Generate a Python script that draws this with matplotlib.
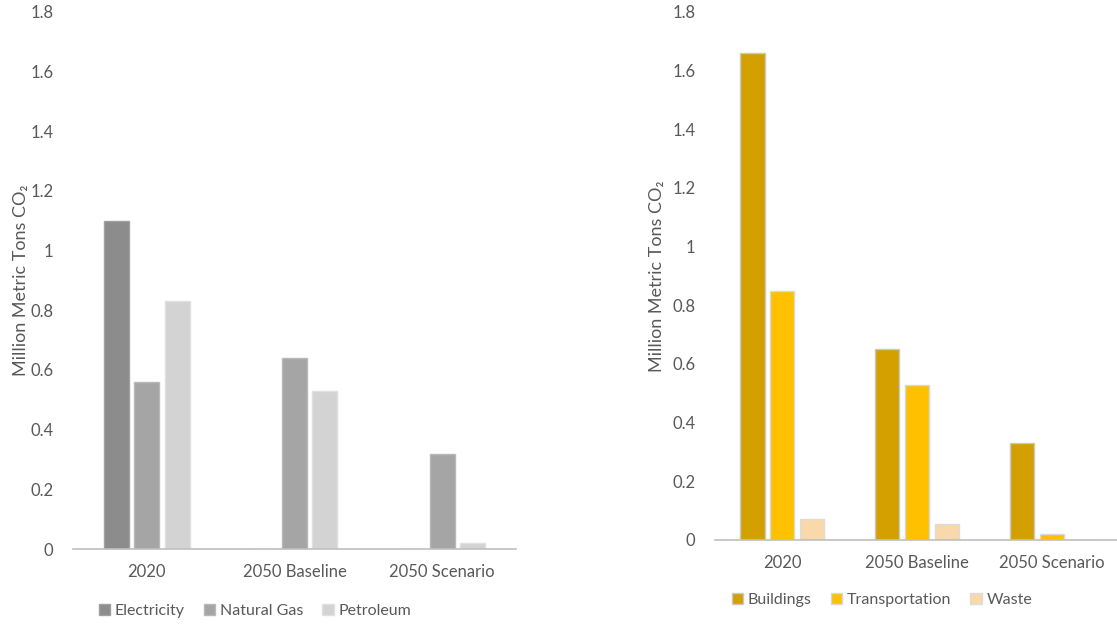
import numpy as np
import matplotlib.pyplot as plt

plt.rcParams['font.family'] = ['Lato', 'DejaVu Sans']

categories = ['2020', '2050 Baseline', '2050 Scenario']

# emissions by fuel type
fuel_names = ['Electricity', 'Natural Gas', 'Petroleum']
electricity = [1.10, 0.0, 0.0]
natural_gas = [0.56, 0.64, 0.32]
petroleum = [0.83, 0.53, 0.02]

# emissions by sector
sector_names = ['Buildings', 'Transportation', 'Waste']
buildings = [1.66, 0.65, 0.33]
transportation = [0.85, 0.53, 0.02]
waste = [0.07, 0.055, 0.0]

yticks = [0, 0.2, 0.4, 0.6, 0.8, 1, 1.2, 1.4, 1.6, 1.8]
ytick_labels = ['0', '0.2', '0.4', '0.6', '0.8', '1', '1.2', '1.4', '1.6', '1.8']

text_color = '#595959'
W, H = 1117, 625


def draw_panel(ax, series, names, colors, edges, step, width, xmax):
    x = np.arange(len(categories))
    for i, (vals, name, c, ec) in enumerate(zip(series, names, colors, edges)):
        ax.bar(x + (i - 1) * step, vals, width, color=c, edgecolor=ec,
               linewidth=1.0, label=name)
    ax.set_xlim(-0.5, xmax)
    ax.set_ylim(0, 1.8)
    ax.set_xticks(x)
    ax.set_xticklabels(categories)
    ax.set_yticks(yticks)
    ax.set_yticklabels(ytick_labels)
    for s in ['top', 'right', 'left']:
        ax.spines[s].set_visible(False)
    ax.spines['bottom'].set_color('#bfbfbf')
    ax.spines['bottom'].set_linewidth(1.2)
    ax.tick_params(axis='both', length=0, colors=text_color, labelsize=12)
    ax.tick_params(axis='x', pad=11)
    ax.tick_params(axis='y', pad=14)
    ax.set_ylabel('Million Metric Tons CO\u2082', color=text_color, fontsize=13)


fig = plt.figure(figsize=(W / 100, H / 100), dpi=100)

ax1 = fig.add_axes([73 / W, (H - 549) / H, 443 / W, 537 / H])
draw_panel(ax1, [electricity, natural_gas, petroleum], fuel_names,
           ['#8c8c8c', '#a5a5a5', '#d3d3d3'],
           ['#a0a0a0', '#b8b8b8', '#e0e0e0'],
           0.205, 0.17, 2.5)
ax1.yaxis.set_label_coords(-0.1, 0.5)

ax2 = fig.add_axes([715 / W, (H - 540) / H, 402 / W, 528 / H])
draw_panel(ax2, [buildings, transportation, waste], sector_names,
           ['#d4a000', '#ffc000', '#f9d9a9'],
           ['#c8c8c8', '#d8d8d8', '#dcdcdc'],
           0.222, 0.178, 2.48)
ax2.yaxis.set_label_coords(-0.125, 0.5)

for ax, cx, cy in [(ax1, 255, 611), (ax2, 882, 600)]:
    h, l = ax.get_legend_handles_labels()
    fig.legend(h, l, loc='center', bbox_to_anchor=(cx / W, 1 - cy / H),
               ncol=3, frameon=False, fontsize=11.5, labelcolor=text_color,
               handlelength=0.7, handleheight=0.7, handletextpad=0.3,
               columnspacing=1.2)

fig.savefig('out.png', dpi=100)
